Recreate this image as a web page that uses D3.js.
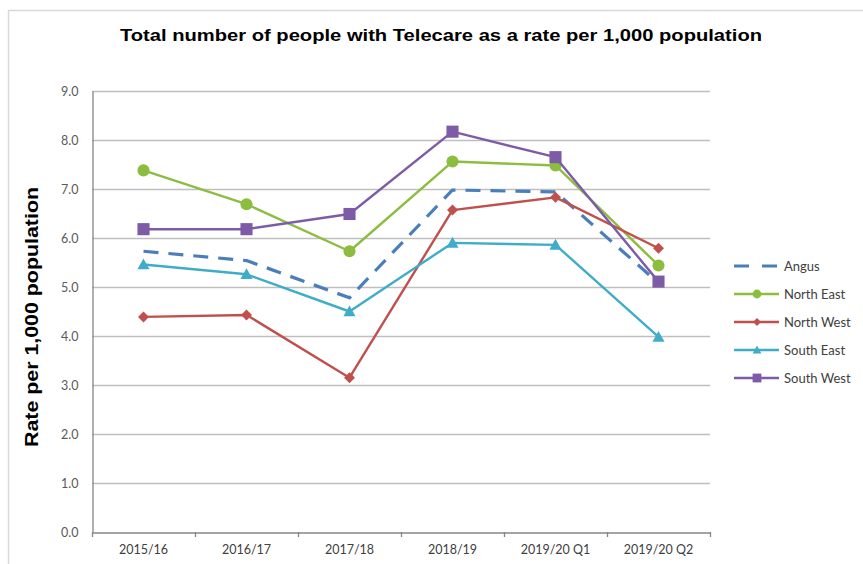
<!DOCTYPE html>
<html>
<head>
<meta charset="utf-8">
<script src="https://cdn.jsdelivr.net/npm/d3@7"></script>
<style>
  html, body { margin: 0; padding: 0; background: #fff; }
  svg { display: block; }
</style>
</head>
<body>
<svg id="chart" width="863" height="564"></svg>
<script>
const categories = ["2015/16", "2016/17", "2017/18", "2018/19", "2019/20 Q1", "2019/20 Q2"];
const angus     = [5.73, 5.54, 4.78, 6.98, 6.94, 5.08];
const northEast = [7.38, 6.69, 5.73, 7.56, 7.48, 5.44];
const northWest = [4.39, 4.43, 3.15, 6.57, 6.83, 5.79];
const southEast = [5.46, 5.26, 4.50, 5.90, 5.86, 3.98];
const southWest = [6.18, 6.18, 6.49, 8.17, 7.65, 5.11];
const yTicks = [0, 1, 2, 3, 4, 5, 6, 7, 8, 9];
const title = "Total number of people with Telecare as a rate per 1,000 population";
const yTitle = "Rate per 1,000 population";

const series = [
  { name: "Angus",      values: angus,     color: "#4a7ebb", marker: null, dash: "15,10" },
  { name: "North East", values: northEast, color: "#8cbd3f", marker: "circle" },
  { name: "North West", values: northWest, color: "#c0504d", marker: "diamond" },
  { name: "South East", values: southEast, color: "#3fadc8", marker: "triangle" },
  { name: "South West", values: southWest, color: "#7d5ba6", marker: "square" }
];

const svg = d3.select("#chart");
const plotLeft = 92, plotRight = 710, plotTop = 91, plotBottom = 532;

// outer frame
svg.append("rect").attr("x", 8.5).attr("y", 10.5).attr("width", 900).attr("height", 600)
  .attr("fill", "#fff").attr("stroke", "#d9d9d9").attr("stroke-width", 1.5);

const x = d3.scaleBand().domain(categories).range([plotLeft, plotRight]);
const y = d3.scaleLinear().domain([0, 9]).range([plotBottom, plotTop]);

// gridlines
svg.append("g").selectAll("line").data(yTicks.filter(d => d > 0)).join("line")
  .attr("x1", plotLeft).attr("x2", plotRight)
  .attr("y1", d => y(d) + 0.5).attr("y2", d => y(d) + 0.5)
  .attr("stroke", "#bfbfbf").attr("stroke-width", 1.3);

// y axis
const yAxis = svg.append("g").attr("transform", `translate(${plotLeft + 0.5},0)`)
  .call(d3.axisLeft(y).tickValues(yTicks).tickFormat(d3.format(".1f")).tickSize(0).tickPadding(14));
yAxis.select(".domain").attr("stroke", "#868686").attr("stroke-width", 1.3);
yAxis.selectAll("text").attr("font-family", "Lato, 'Open Sans', sans-serif").attr("font-size", 12.5).attr("fill", "#595959");

// x axis
const xAxis = svg.append("g").attr("transform", `translate(0,${plotBottom + 0.5})`)
  .call(d3.axisBottom(x).tickSize(0).tickPadding(13));
xAxis.select(".domain").attr("stroke", "#868686").attr("stroke-width", 1.3);
xAxis.selectAll("text").attr("font-family", "Lato, 'Open Sans', sans-serif").attr("font-size", 12.5).attr("fill", "#404040");
// tick marks at category boundaries
const bounds = categories.map(c => x(c)).concat([x(categories[categories.length - 1]) + x.bandwidth()]);
svg.append("g").selectAll("line").data(bounds).join("line")
  .attr("x1", d => d + 0.5).attr("x2", d => d + 0.5)
  .attr("y1", plotBottom).attr("y2", plotBottom + 5)
  .attr("stroke", "#868686").attr("stroke-width", 1.3);

// titles
svg.append("text").attr("x", 441).attr("y", 41).attr("text-anchor", "middle")
  .attr("font-family", "'Liberation Sans', Arial, sans-serif").attr("font-weight", "bold")
  .attr("font-size", 17).attr("fill", "#000")
  .attr("textLength", 642).attr("lengthAdjust", "spacingAndGlyphs").text(title);
svg.append("text").attr("transform", "translate(38,317) rotate(-90)").attr("text-anchor", "middle")
  .attr("font-family", "'Liberation Sans', Arial, sans-serif").attr("font-weight", "bold")
  .attr("font-size", 18.5).attr("fill", "#000")
  .attr("textLength", 260).attr("lengthAdjust", "spacingAndGlyphs").text(yTitle);

const cx = (c) => x(c) + x.bandwidth() / 2;
const line = d3.line().x((d, i) => cx(categories[i])).y(d => y(d));

function drawMarker(g, type, color, px, py, s) {
  if (type === "circle") {
    g.append("circle").attr("cx", px).attr("cy", py).attr("r", s * 0.55).attr("fill", color);
  } else if (type === "square") {
    g.append("rect").attr("x", px - s * 0.55).attr("y", py - s * 0.55).attr("width", s * 1.1).attr("height", s * 1.1).attr("fill", color);
  } else if (type === "diamond") {
    const r = s * 0.5;
    g.append("path").attr("d", `M${px},${py - r}L${px + r},${py}L${px},${py + r}L${px - r},${py}Z`).attr("fill", color);
  } else if (type === "triangle") {
    const r = s * 0.55;
    g.append("path").attr("d", `M${px},${py - r}L${px + r},${py + r * 0.8}L${px - r},${py + r * 0.8}Z`).attr("fill", color);
  }
}

series.forEach(s => {
  const g = svg.append("g");
  g.append("path").datum(s.values).attr("d", line).attr("fill", "none")
    .attr("stroke", s.color).attr("stroke-width", s.dash ? 3.2 : 2.4)
    .attr("stroke-dasharray", s.dash || null).attr("stroke-linejoin", "round");
  if (s.marker) {
    s.values.forEach((v, i) => drawMarker(g, s.marker, s.color, cx(categories[i]), y(v), 11));
  }
});

// legend
const legendY = [266, 294, 322, 350, 378];
series.forEach((s, i) => {
  const g = svg.append("g");
  const ly = legendY[i];
  g.append("line").attr("x1", 734).attr("x2", 779).attr("y1", ly).attr("y2", ly)
    .attr("stroke", s.color).attr("stroke-width", s.dash ? 3.2 : 2.4)
    .attr("stroke-dasharray", s.dash ? "15,13" : null);
  if (s.marker) drawMarker(g, s.marker, s.color, 757, ly, 8);
  g.append("text").attr("x", 784).attr("y", ly + 4.5)
    .attr("font-family", "Lato, 'Open Sans', sans-serif").attr("font-size", 13).attr("fill", "#404040").text(s.name);
});
</script>
</body>
</html>
